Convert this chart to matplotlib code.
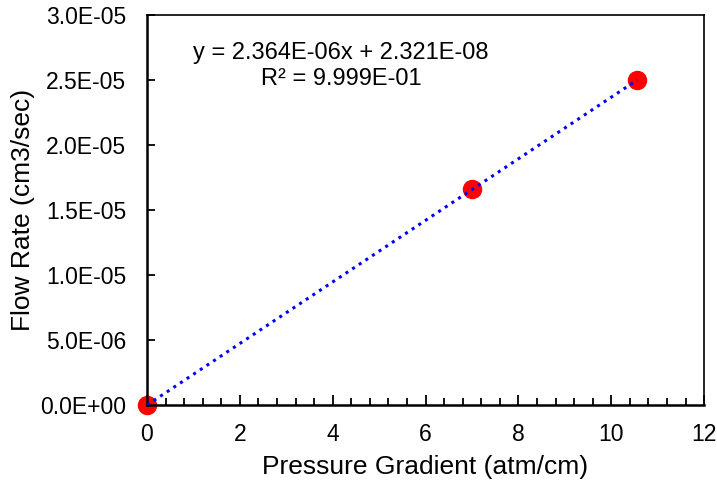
import numpy as np
import matplotlib
matplotlib.use("Agg")
import matplotlib.pyplot as plt
from matplotlib.ticker import MultipleLocator, FuncFormatter

pressure_gradient = [0.0, 7.0, 10.56]
flow_rate = [0.0, 1.66e-5, 2.50e-5]
eq_text = "y = 2.364E-06x + 2.321E-08\nR² = 9.999E-01"

plt.rcParams['font.family'] = ['Liberation Sans', 'DejaVu Sans']

fig = plt.figure(figsize=(7.17, 4.87), dpi=100)
ax = fig.add_axes([0.205, 0.168, 0.777, 0.801])

coef = np.polyfit(pressure_gradient, flow_rate, 1)
xs = np.array([0.0, max(pressure_gradient)])
ax.plot(xs, np.polyval(coef, xs), color='#0000ff', linestyle=(0, (1, 1.6)), lw=2.2, zorder=3)
ax.plot(pressure_gradient, flow_rate, 'o', color='#ff0000', markersize=13, clip_on=False, zorder=2)

ax.set_xlim(0, 12)
ax.set_ylim(0, 3.0e-5)
ax.xaxis.set_major_locator(MultipleLocator(2))
ax.xaxis.set_minor_locator(MultipleLocator(0.4))
ax.yaxis.set_major_locator(MultipleLocator(5e-6))
ax.yaxis.set_major_formatter(FuncFormatter(lambda v, p: "%.1E" % v))
ax.xaxis.set_major_formatter(FuncFormatter(lambda v, p: "%d" % v))

ax.tick_params(axis='x', which='major', direction='in', length=7, width=1.3, labelsize=16.5, pad=12.5)
ax.tick_params(axis='x', which='minor', direction='in', length=5, width=1.3)
ax.tick_params(axis='y', which='major', direction='in', length=6, width=1.3, labelsize=16.5, pad=15)
ax.tick_params(top=False, right=False, which='both')

for s in ['left', 'bottom']:
    ax.spines[s].set_linewidth(1.8)
for s in ['top', 'right']:
    ax.spines[s].set_linewidth(1.2)

ax.set_xlabel("Pressure Gradient (atm/cm)", fontsize=19, labelpad=6.5)
ax.set_ylabel("Flow Rate (cm3/sec)", fontsize=19, labelpad=4)

ax.text(4.18, 2.61e-5, eq_text, ha='center', va='center', multialignment='center',
        fontsize=17, linespacing=1.2)

fig.savefig("out.png", dpi=100)
